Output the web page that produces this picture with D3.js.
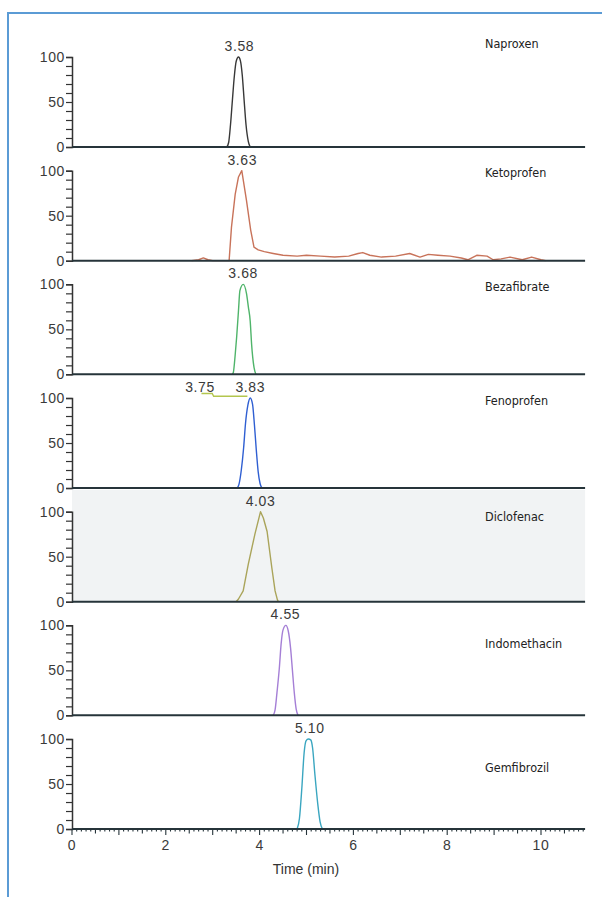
<!DOCTYPE html>
<html>
<head>
<meta charset="utf-8">
<script src="https://cdn.jsdelivr.net/npm/d3@7"></script>
<style>
  html, body { margin: 0; padding: 0; background: #fff; }
  svg { display: block; }
  .tick-label { font-family: "Liberation Sans", Arial, sans-serif; font-size: 14px; letter-spacing: 0.6px; fill: #3a3a3a; }
  .peak-label { font-family: "Liberation Sans", Arial, sans-serif; font-size: 14px; letter-spacing: 0.6px; fill: #3a3a3a; }
  .name-label { font-family: "Liberation Sans Narrow", "DejaVu Sans Condensed", sans-serif; font-size: 12.5px; fill: #222; }
  .axis-title { font-family: "Liberation Sans Narrow", "Liberation Sans", sans-serif; font-size: 14px; fill: #333; }
</style>
</head>
<body>
<svg id="chart" width="602" height="897"></svg>
<script>
// ── Data (time in min, relative abundance in %) ──────────────────────────────
const compounds = ["Naproxen", "Ketoprofen", "Bezafibrate", "Fenoprofen",
                   "Diclofenac", "Indomethacin", "Gemfibrozil"];
const traceColors = ["#383838", "#c8735a", "#4fb46a", "#2f5fd2",
                     "#aaa45a", "#a57fd6", "#3aa6c0"];

const naproxen = [[3.30,0],[3.34,5],[3.38,25],[3.42,52],[3.46,78],[3.50,95],[3.55,100],
  [3.59,96],[3.63,80],[3.67,52],[3.71,25],[3.76,6],[3.80,0]];
const ketoprofen = [[2.55,0],[2.70,1],[2.80,3],[2.90,1],[3.00,0],[3.35,0],[3.40,37],
  [3.48,74],[3.55,93],[3.62,100],[3.72,67],[3.81,34],[3.88,15],[3.97,12],[4.10,10],
  [4.29,8],[4.50,6],[4.80,5],[5.00,6],[5.30,5],[5.60,4],[5.90,5],[6.10,8],[6.20,9],
  [6.35,6],[6.60,4],[6.90,5],[7.20,8],[7.42,4],[7.60,7],[7.80,6],[8.06,5],[8.30,3],
  [8.44,1],[8.63,6],[8.85,5],[8.98,1],[9.15,2],[9.34,4],[9.60,1],[9.80,4],[10.00,1],[10.10,0]];
const bezafibrate = [[3.42,0],[3.44,2],[3.48,22],[3.51,41],[3.55,71],[3.58,93],[3.65,100],
  [3.72,90],[3.76,75],[3.80,59],[3.83,33],[3.88,8],[3.92,0]];
const fenoprofen = [[3.52,0],[3.56,4],[3.61,20],[3.66,45],[3.70,72],[3.75,92],[3.80,100],
  [3.85,93],[3.89,70],[3.93,42],[3.97,18],[4.01,5],[4.05,0]];
const fenoprofenArtifact = [[2.76,105],[2.99,105],[3.02,102],[3.74,102]];
const diclofenac = [[3.50,0],[3.55,3],[3.65,12],[3.76,42],[3.90,75],[4.02,100],[4.08,93],
  [4.16,78],[4.26,38],[4.33,12],[4.38,2],[4.40,0]];
const indomethacin = [[4.29,0],[4.33,6],[4.37,25],[4.42,52],[4.46,80],[4.50,95],[4.56,100],
  [4.61,94],[4.66,75],[4.70,50],[4.74,25],[4.78,7],[4.82,0]];
const gemfibrozil = [[4.80,0],[4.85,12],[4.90,45],[4.95,85],[4.99,98],[5.04,100],[5.09,99],
  [5.13,90],[5.18,60],[5.24,28],[5.29,8],[5.34,0]];
const traces = [naproxen, ketoprofen, bezafibrate, fenoprofen, diclofenac, indomethacin, gemfibrozil];

// peak annotations: [panel index, time position, text]
const peakLabels = [[0, 3.57, "3.58"], [1, 3.63, "3.63"], [2, 3.65, "3.68"],
  [3, 2.73, "3.75"], [3, 3.80, "3.83"], [4, 4.02, "4.03"], [5, 4.55, "4.55"], [6, 5.07, "5.10"]];

const yTicks = [0, 50, 100];
const xTickLabels = [0, 2, 4, 6, 8, 10];
const xMax = 10.94;

// ── Layout ───────────────────────────────────────────────────────────────────
const svg = d3.select("#chart");
const left = 72;
const firstTop = 57, pitch = 113.67, ph = 90;
// compound name vertical position, in % of each panel
const namePos = [115, 98, 97, 97, 95, 80, 68];

const x = d3.scaleLinear().domain([0, 10]).range([left, 541]);

// frame
svg.append("path")
  .attr("d", "M8,897V13H602")
  .attr("fill", "none").attr("stroke", "#5b9bd5").attr("stroke-width", 2);

const line = d3.line().x(d => x(d[0]));

compounds.forEach((name, i) => {
  const top = firstTop + i * pitch;
  const y = d3.scaleLinear().domain([0, 100]).range([top + ph, top]);
  const g = svg.append("g");

  if (name === "Diclofenac") {
    const prevBase = firstTop + (i - 1) * pitch + ph;
    g.append("rect")
      .attr("x", left).attr("y", prevBase + 2)
      .attr("width", x(xMax) - left).attr("height", y(0) - prevBase - 2)
      .attr("fill", "#f1f3f4");
  }

  // y axis
  g.append("g")
    .attr("transform", `translate(${left},0)`)
    .call(d3.axisLeft(y).tickValues(d3.range(0, 101, 10)).tickSize(6).tickFormat(""))
    .call(a => a.selectAll("line").attr("stroke", "#333").attr("stroke-width", 1.2))
    .call(a => a.select(".domain").attr("stroke", "#333").attr("stroke-width", 1.5));
  g.selectAll(null).data(yTicks).join("text")
    .attr("class", "tick-label")
    .attr("x", left - 7).attr("y", d => y(d))
    .attr("dy", "0.35em").attr("text-anchor", "end")
    .text(d => d);

  // trace
  const curve = name === "Diclofenac" || name === "Ketoprofen" ? d3.curveLinear : d3.curveMonotoneX;
  g.append("path").datum(traces[i])
    .attr("fill", "none").attr("stroke", traceColors[i]).attr("stroke-width", 1.4)
    .attr("stroke-linejoin", "round")
    .attr("d", line.y(d => y(d[1])).curve(curve));
  if (name === "Fenoprofen") {
    g.append("path").datum(fenoprofenArtifact)
      .attr("fill", "none").attr("stroke", "#b3c64e").attr("stroke-width", 1.4)
      .attr("d", line.y(d => y(d[1])).curve(d3.curveLinear));
  }

  // baseline
  g.append("line")
    .attr("x1", left).attr("x2", x(xMax))
    .attr("y1", y(0)).attr("y2", y(0))
    .attr("stroke", "#26343a").attr("stroke-width", 2);

  // name
  g.append("text").attr("class", "name-label")
    .attr("x", 485).attr("y", y(namePos[i])).attr("dy", "0.35em")
    .text(name);

  // peak labels
  peakLabels.filter(p => p[0] === i).forEach(p => {
    g.append("text").attr("class", "peak-label")
      .attr("x", x(p[1])).attr("y", y(100) - 6)
      .attr("text-anchor", "middle")
      .text(p[2]);
  });

  // x axis on last panel
  if (i === compounds.length - 1) {
    const base = y(0);
    const ticks = d3.range(0, 110, 1).map(v => v / 10);
    svg.append("g").selectAll("line").data(ticks).join("line")
      .attr("x1", d => x(d)).attr("x2", d => x(d))
      .attr("y1", base)
      .attr("y2", d => base + (Math.abs(d - Math.round(d)) < 1e-6 ? 6 : (Math.abs(d * 2 - Math.round(d * 2)) < 1e-6 ? 4.5 : 2.5)))
      .attr("stroke", "#26343a").attr("stroke-width", 1.1);
    svg.selectAll(null).data(xTickLabels).join("text")
      .attr("class", "tick-label")
      .attr("x", d => x(d)).attr("y", base + 21)
      .attr("text-anchor", "middle")
      .text(d => d);
    svg.append("text").attr("class", "axis-title")
      .attr("x", 306).attr("y", base + 45)
      .attr("text-anchor", "middle")
      .text("Time (min)");
  }
});
</script>
</body>
</html>
